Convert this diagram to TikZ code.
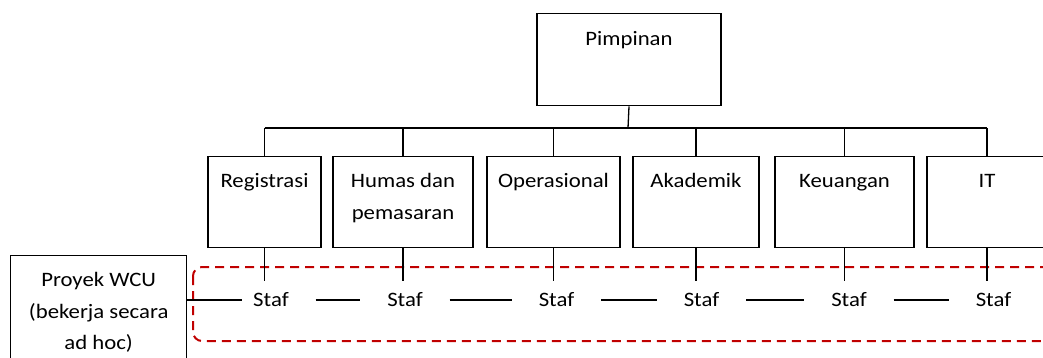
\documentclass[tikz,border=0pt]{standalone}
\usepackage{fontspec}
\setmainfont{Carlito}[FakeStretch=1.11]
\definecolor{wcured}{RGB}{192,0,0}
\newcommand\mytopstrut{\rule{0pt}{18pt}}
\begin{document}
\begin{tikzpicture}[x=1pt,y=-1pt, line width=1.3pt,
  box/.style={draw, inner sep=0pt, anchor=north, minimum height=91pt},
  lab/.style={anchor=north, inner sep=0pt, align=center, font=\fontsize{20.5}{31.5}\selectfont},
  stafbox/.style={inner sep=0pt, minimum width=88pt, minimum height=36pt, font=\fontsize{20.5}{31.5}\selectfont},
  adhoc/.style={draw=wcured, dash pattern=on 9pt off 6pt, line width=2pt, rounded corners=9pt}]
\useasboundingbox (0,0) rectangle (1043,357);
\clip (0,0) rectangle (1043,357);
% top
\node[box, minimum width=184pt, minimum height=92pt, label={[lab,yshift=-14pt]north:\mytopstrut Pimpinan}] (pim) at (629,13) {};
% departments
\node[box, minimum width=113pt, label={[lab,yshift=-13.3pt]north:\mytopstrut Registrasi}] (reg) at (264.5,156) {};
\node[box, minimum width=140pt, label={[lab,yshift=-13.3pt]north:{\mytopstrut Humas dan\\pemasaran}}] (hum) at (403,156) {};
\node[box, minimum width=133pt, label={[lab,yshift=-13.3pt]north:\mytopstrut Operasional}] (ope) at (553.5,156) {};
\node[box, minimum width=126pt, label={[lab,yshift=-13.3pt]north:\mytopstrut Akademik}] (aka) at (696,156) {};
\node[box, minimum width=139pt, label={[lab,yshift=-13.3pt]north:\mytopstrut Keuangan}] (keu) at (844.5,156) {};
\node[box, minimum width=120pt, label={[lab,yshift=-13.3pt]north:\mytopstrut IT}] (it) at (987,156) {};
% project box
\node[draw, inner sep=0pt, anchor=north west, minimum width=176pt, minimum height=130pt,
  label={[lab,yshift=-13pt]north:{\mytopstrut Proyek WCU\\(bekerja secara\\ad hoc)}}] (wcu) at (10,255) {};
% ad hoc group
\draw[adhoc] (193,267) rectangle (1075,341);
% staff
\node[stafbox] (s1) at (271,300) {Staf};
\node[stafbox] (s2) at (405,300) {Staf};
\node[stafbox] (s3) at (556.5,300) {Staf};
\node[stafbox] (s4) at (701.5,300) {Staf};
\node[stafbox] (s5) at (849,300) {Staf};
\node[stafbox] (s6) at (993.5,300) {Staf};
% bar
\coordinate (bar) at (628,128);
\draw (pim.south) -- (bar);
\draw (reg.north |- bar) -- (it.north |- bar);
\foreach \n in {reg,hum,ope,aka,keu,it} \draw (\n.north) -- (\n.north |- bar);
% down to staff
\draw (reg.south) -- (reg.south |- s1.north);
\draw (hum.south) -- (hum.south |- s2.north);
\draw (ope.south) -- (ope.south |- s3.north);
\draw (aka.south) -- (aka.south |- s4.north);
\draw (keu.south) -- (keu.south |- s5.north);
\draw (it.south) -- (it.south |- s6.north);
% staff chain
\draw[shorten >=-16pt] (wcu.east |- s1) -- (s1.west);
\draw (s1.east) -- (s2.west);
\draw (s2.east) -- (s3.west);
\draw (s3.east) -- (s4.west);
\draw (s4.east) -- (s5.west);
\draw (s5.east) -- (s6.west);
\end{tikzpicture}
\end{document}
